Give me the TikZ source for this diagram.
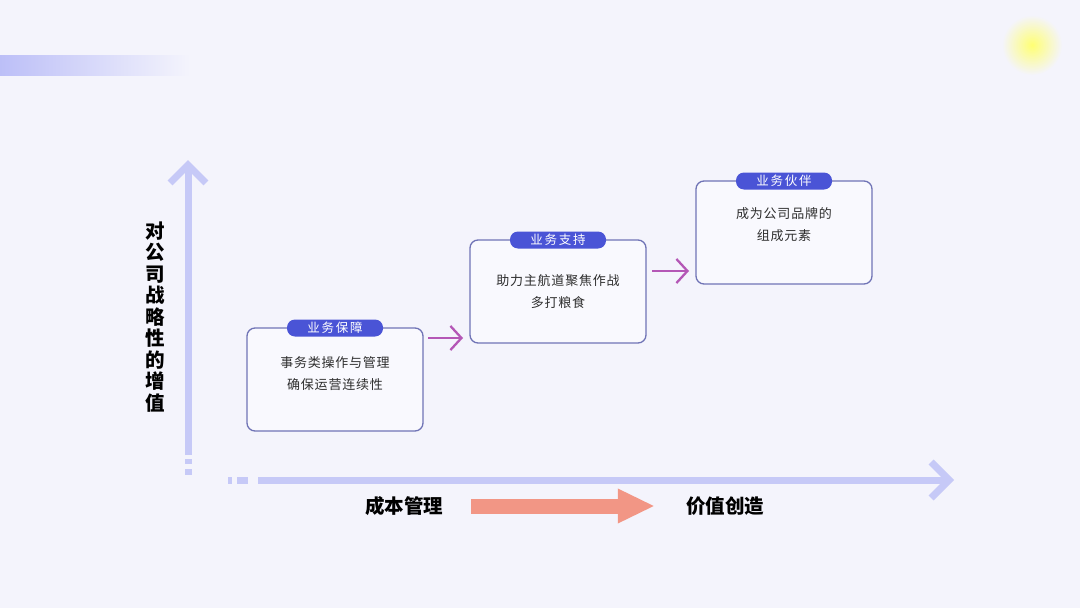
\documentclass[tikz,border=0pt]{standalone}
\usepackage{fontspec}
\usepackage{tikz}
\usetikzlibrary{arrows.meta, positioning, calc}
\newfontfamily\cjk{Noto Sans CJK SC}
\newfontfamily\cjktag[LetterSpace=14]{Noto Sans CJK SC}
\newfontfamily\cjkbody[LetterSpace=6]{Noto Sans CJK SC}
\definecolor{bgcol}{HTML}{F4F4FC}
\definecolor{axiscol}{HTML}{C6C9F7}
\definecolor{boxline}{HTML}{7074B6}
\definecolor{boxfill}{HTML}{F9F9FE}
\definecolor{tagcol}{HTML}{4A54D6}
\definecolor{stepcol}{HTML}{B457B6}
\definecolor{salmon}{HTML}{F29685}
\definecolor{txtcol}{HTML}{2E2E2E}

\begin{document}
\begin{tikzpicture}[
  x=1pt, y=-1pt,
  % --- boxes ---
  stagebox/.style={draw=boxline, fill=boxfill, line width=1.3pt, rounded corners=8pt,
    minimum width=176pt, minimum height=103pt, inner sep=0pt, outer sep=0pt},
  tag/.style={fill=tagcol, rounded corners=8pt, minimum width=96pt, minimum height=17pt,
    inner sep=0pt, text=white, font=\cjktag\fontsize{12.5}{14}\selectfont},
  desc/.style={align=center, text=txtcol, inner sep=0pt,
    font=\cjkbody\fontsize{13}{22}\selectfont},
  % --- labels ---
  axlbl/.style={inner sep=0pt, font=\cjk\bfseries\fontsize{19.5}{21.5}\selectfont, align=center},
  % --- arrows ---
  axis/.style={draw=axiscol, line width=7pt, -{Straight Barb[length=18pt, width=36pt]}},
  axdash/.style={draw=axiscol, line width=7pt},
  stp/.style={draw=stepcol, line width=2.3pt, -{Straight Barb[length=11pt, width=24pt]}},
  trend/.style={draw=salmon, line width=15pt, -{Triangle[length=37pt, width=32pt]}},
]

% ===================== BACKGROUND =====================
\fill[bgcol] (0,0) rectangle (1080,608);
\shade[left color=axiscol!95!blue, right color=bgcol] (0,55) rectangle (190,75);
\shade[inner color=yellow!55, outer color=bgcol] (1032,45) circle (30);

% ===================== AXES =====================
\coordinate (ybot) at (188,455);
\coordinate (ytop) at (188,160);
\coordinate (xlft) at (258,480);
\coordinate (xrgt) at (954,480);

\draw[axis] (ybot) -- (ytop);
\draw[axdash] (188,459) -- (188,464);
\draw[axdash] (188,469) -- (188,475);
\draw[axis] (xlft) -- (xrgt);
\draw[axdash] (228,480) -- (232,480);
\draw[axdash] (237,480) -- (248,480);

\node[axlbl] (vlbl) at (155,317) {对\\公\\司\\战\\略\\性\\的\\增\\值};

% ===================== STAGES =====================
\node[stagebox] (b1) at (335,379.5) {};
\node[tag] (t1) at (b1.north) {业务保障};
\node[desc] (d1) at (335,374) {事务类操作与管理\\确保运营连续性};

\node[stagebox] (b2) at (558,291.5) {};
\node[tag] (t2) at (b2.north) {业务支持};
\node[desc] (d2) at (558,291) {助力主航道聚焦作战\\多打粮食};

\node[stagebox] (b3) at (784,232.5) {};
\node[tag] (t3) at (b3.north) {业务伙伴};
\node[desc] (d3) at (784,225) {成为公司品牌的\\组成元素};

\draw[stp] ([shift={(5,10)}]b1.north east) -- ([shift={(-7,-5)}]b2.south west);
\draw[stp] ([shift={(6,31)}]b2.north east) -- ([shift={(-7,-13)}]b3.south west);

% ===================== TREND =====================
\node[axlbl] (cost) at (404,506) {成本管理};
\node[axlbl] (value) at (725,506) {价值创造};
\draw[trend] ([xshift=28]cost.east) -- ([xshift=-31]value.west);

\end{tikzpicture}
\end{document}
